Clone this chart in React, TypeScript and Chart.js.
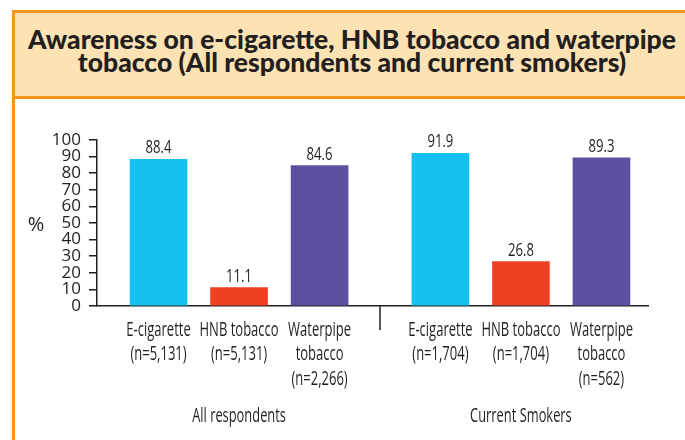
import React, { useEffect, useRef } from "react";
import { Chart, registerables } from "chart.js";

Chart.register(...registerables);

// ---------- data ----------
const titleLines = [
  "Awareness on e-cigarette, HNB tobacco and waterpipe",
  "tobacco (All respondents and current smokers)",
];
const groups = ["All respondents", "Current Smokers"];
const categoryLines = [["E-cigarette"], ["HNB tobacco"], ["Waterpipe", "tobacco"]];
const sampleSizes = [
  ["5,131", "5,131", "2,266"],
  ["1,704", "1,704", "562"],
];
const allRespondents = [88.4, 11.1, 84.6];
const currentSmokers = [91.9, 26.8, 89.3];
const yTicks = [0, 10, 20, 30, 40, 50, 60, 70, 80, 90, 100];
const yUnit = "%";

// ---------- styles ----------
const barColors = ["#15C1F1", "#EF4024", "#5E4FA2"];
const TEXT = "#231F20";
const AXIS = "#231F20";
const ORANGE = "#F7941D";
const PEACH = "#FDE2B4";
const FONT = "'Open Sans', 'Noto Sans', sans-serif";
const GROUP_GAP = 0.5;
const X_MIN = -0.764;
const X_MAX = 6.078;

function drawCondensed(
  ctx: CanvasRenderingContext2D,
  text: string,
  x: number,
  y: number,
  size: number,
  cond: number
) {
  ctx.save();
  ctx.translate(x, y);
  ctx.scale(cond, 1);
  ctx.font = `${size}px ${FONT}`;
  ctx.textAlign = "center";
  ctx.textBaseline = "alphabetic";
  ctx.fillStyle = TEXT;
  ctx.fillText(text, 0, 0);
  ctx.restore();
}

export default function App() {
  const ref = useRef<HTMLCanvasElement>(null);

  useEffect(() => {
    const canvas = ref.current!;
    const groupValues = [allRespondents, currentSmokers];
    const nCat = categoryLines.length;
    const points: { x: number; y: number; label: string[]; color: string }[] = [];
    groupValues.forEach((vals, g) =>
      vals.forEach((v, i) =>
        points.push({
          x: g * (nCat + GROUP_GAP) + i,
          y: v,
          label: [...categoryLines[i], `(n=${sampleSizes[g][i]})`],
          color: barColors[i],
        })
      )
    );
    const separatorX = (nCat - 1 + (nCat + GROUP_GAP)) / 2;

    const annot = {
      id: "annot",
      afterDatasetsDraw(chart: any) {
        const ctx = chart.ctx as CanvasRenderingContext2D;
        const meta = chart.getDatasetMeta(0);
        const xs = chart.scales.x;
        const ys = chart.scales.y;
        // value labels
        meta.data.forEach((bar: any, i: number) => {
          drawCondensed(ctx, points[i].y.toFixed(1), bar.x, bar.y - 6, 18.5, 0.71);
        });
        // category labels under the axis
        points.forEach((p) => {
          const cx = xs.getPixelForValue(p.x);
          p.label.forEach((line, li) => {
            drawCondensed(ctx, line, cx, ys.bottom + 29.5 + li * 24.5, 20, 0.65);
          });
        });
        // group labels
        groups.forEach((g, gi) => {
          const cx = xs.getPixelForValue(gi * (nCat + GROUP_GAP) + (nCat - 1) / 2);
          drawCondensed(ctx, g, cx, ys.bottom + 116, 19.5, 0.66);
        });
        ctx.save();
        // unit
        ctx.fillStyle = TEXT;
        ctx.font = `20px ${FONT}`;
        ctx.textAlign = "center";
        ctx.textBaseline = "middle";
        ctx.fillText(yUnit, 21, (ys.top + ys.bottom) / 2 + 2);
        // separator tick
        const sx = Math.round(xs.getPixelForValue(separatorX));
        ctx.strokeStyle = AXIS;
        ctx.lineWidth = 1.5;
        ctx.beginPath();
        ctx.moveTo(sx, ys.bottom);
        ctx.lineTo(sx, ys.bottom + 24);
        ctx.stroke();
        ctx.restore();
      },
    };

    const chart = new Chart(canvas, {
      type: "bar",
      data: {
        datasets: [
          {
            data: points.map((p) => ({ x: p.x, y: p.y })),
            backgroundColor: points.map((p) => p.color),
            borderWidth: 0,
            barThickness: 57,
          },
        ],
      },
      options: {
        animation: false,
        responsive: false,
        devicePixelRatio: 1,
        layout: { padding: { left: 0, right: 37, top: 41, bottom: 0 } },
        plugins: {
          legend: { display: false },
          tooltip: { enabled: false },
          title: { display: false },
        },
        scales: {
          x: {
            type: "linear",
            min: X_MIN,
            max: X_MAX,
            offset: false,
            afterBuildTicks: (s: any) => {
              s.ticks = points.map((p) => ({ value: p.x }));
            },
            afterFit: (s: any) => {
              s.height = 134;
            },
            grid: { display: false, drawTicks: false },
            border: { display: true, color: AXIS, width: 1.5 },
            ticks: { display: false },
          },
          y: {
            type: "linear",
            min: 0,
            max: 100,
            afterBuildTicks: (s: any) => {
              s.ticks = yTicks.map((v) => ({ value: v }));
            },
            afterFit: (s: any) => {
              s.width = 82;
            },
            grid: {
              display: true,
              drawOnChartArea: false,
              drawTicks: true,
              tickLength: 8,
              color: AXIS,
              lineWidth: 1.5,
            },
            border: { display: true, color: AXIS, width: 1.5 },
            ticks: {
              autoSkip: false,
              padding: 8,
              color: TEXT,
              font: { family: FONT, size: 17 },
              callback: (v: any) => String(v),
            },
          },
        },
      },
      plugins: [annot],
    } as any);

    return () => chart.destroy();
  }, []);

  return (
    <div
      style={{
        position: "absolute",
        left: 0,
        top: 0,
        width: 685,
        height: 440,
        overflow: "hidden",
        background: "#ffffff",
      }}
    >
      <div
        style={{
          position: "absolute",
          left: 12,
          top: 10,
          width: 680,
          height: 89,
          boxSizing: "border-box",
          border: `3px solid ${ORANGE}`,
          background: PEACH,
          paddingTop: 15,
          textAlign: "center",
          fontFamily: "Lato, 'Liberation Sans', sans-serif",
          fontWeight: 900,
          fontSize: 26.5,
          lineHeight: "23px",
          color: TEXT,
          whiteSpace: "nowrap",
        }}
      >
        {titleLines.map((t) => (
          <div key={t}>{t}</div>
        ))}
      </div>
      <div
        style={{
          position: "absolute",
          left: 12,
          top: 96,
          width: 3,
          height: 344,
          background: ORANGE,
        }}
      />
      <canvas
        ref={ref}
        width={670}
        height={341}
        style={{ position: "absolute", left: 15, top: 99, width: 670, height: 341 }}
      />
    </div>
  );
}
